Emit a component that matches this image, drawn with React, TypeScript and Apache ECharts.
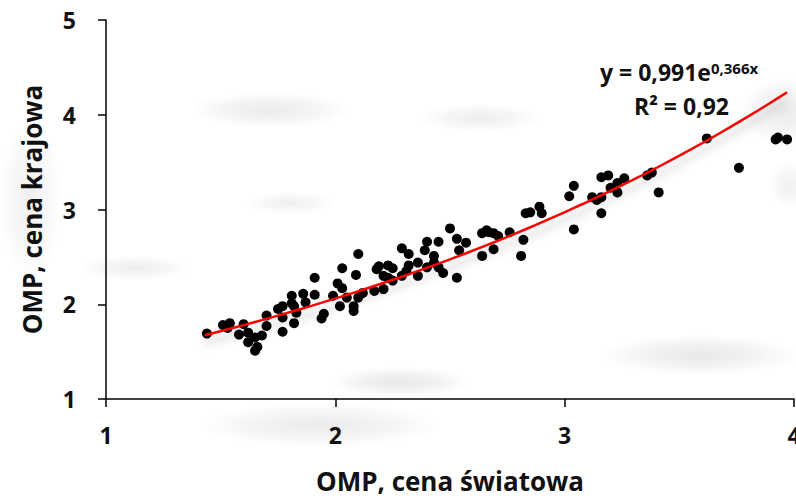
import React, { useEffect, useRef } from "react";
import * as echarts from "echarts";

// Scatter data: OMP world price (x) vs domestic price (y)
const worldPrice = [
  1.44, 1.51, 1.54, 1.53, 1.58, 1.6, 1.62, 1.62, 1.65, 1.66, 1.65, 1.7, 1.7, 1.68,
  1.75, 1.77, 1.77, 1.77, 1.81, 1.81, 1.82, 1.82, 1.86, 1.87, 1.91, 1.83, 1.91,
  1.95, 1.94, 1.99, 2.01, 2.03, 2.03, 2.02, 2.05, 2.08, 2.08, 2.1, 2.09, 2.1, 2.12,
  2.17, 2.18, 2.19, 2.21, 2.21, 2.23, 2.25, 2.23, 2.25, 2.29, 2.32, 2.31, 2.32,
  2.29, 2.36, 2.36, 2.39, 2.4, 2.43, 2.43, 2.4, 2.45, 2.45, 2.47, 2.5, 2.53, 2.53,
  2.57, 2.54, 2.64, 2.64, 2.66, 2.67, 2.69, 2.71, 2.69, 2.76, 2.82, 2.81, 2.83,
  2.85, 2.89, 2.9, 3.02, 3.04, 3.04, 3.12, 3.14, 3.16, 3.16, 3.19, 3.2, 3.23, 3.23,
  3.26, 3.16, 3.36, 3.38, 3.41, 3.62, 3.76, 3.92, 3.93, 3.97,
];
const domesticPrice = [
  1.69, 1.78, 1.8, 1.75, 1.68, 1.79, 1.7, 1.6, 1.65, 1.55, 1.51, 1.88, 1.77, 1.67,
  1.95, 1.98, 1.86, 1.71, 2.01, 2.09, 1.8, 1.98, 2.11, 2.02, 2.1, 1.91, 2.28,
  1.9, 1.85, 2.09, 2.22, 2.38, 2.17, 1.98, 2.07, 1.98, 1.93, 2.53, 2.31, 2.07, 2.12,
  2.14, 2.37, 2.4, 2.3, 2.16, 2.41, 2.38, 2.28, 2.25, 2.59, 2.53, 2.35, 2.41,
  2.3, 2.44, 2.3, 2.57, 2.66, 2.51, 2.44, 2.39, 2.66, 2.39, 2.33, 2.8, 2.28, 2.69,
  2.65, 2.57, 2.75, 2.51, 2.78, 2.76, 2.75, 2.72, 2.58, 2.76, 2.68, 2.51, 2.96,
  2.97, 3.03, 2.96, 3.14, 2.79, 3.25, 3.13, 3.1, 3.13, 3.34, 3.36, 3.23, 3.28, 3.18,
  3.33, 2.96, 3.36, 3.39, 3.18, 3.75, 3.44, 3.74, 3.76, 3.74,
];

// Exponential trend line shown on the chart: y = 0,991 e^(0,366x), R² = 0,92
const trendA = 0.991;
const trendB = 0.366;
const trendXRange = [1.43, 3.97];
const equationMain = "y = 0,991e";
const equationExp = "0,366x";
const rSquaredLabel = "R² = 0,92";

const xTicks = [1, 2, 3, 4];
const yTicks = [1, 2, 3, 4, 5];
const xTitle = "OMP, cena światowa";
const yTitle = "OMP, cena krajowa";

const FONT = "'Open Sans', Lato, sans-serif";

// soft grey background smudges seen in the picture: [cx, cy, rx, ry, alpha]
const smudges: number[][] = [
  [270, 110, 80, 18, 0.08],
  [480, 118, 60, 14, 0.07],
  [290, 203, 45, 11, 0.06],
  [135, 268, 55, 12, 0.07],
  [30, 200, 32, 80, 0.06],
  [400, 382, 70, 15, 0.09],
  [320, 425, 120, 22, 0.08],
  [700, 355, 100, 20, 0.09],
  [785, 112, 45, 34, 0.08],
  [790, 185, 22, 24, 0.06],
];

export default function App() {
  const ref = useRef<HTMLDivElement>(null);

  useEffect(() => {
    if (!ref.current) return;
    const chart = echarts.init(ref.current, null, { renderer: "svg" });

    const points = worldPrice.map((x, i) => [x, domesticPrice[i]]);
    const trend: number[][] = [];
    const steps = 60;
    for (let i = 0; i <= steps; i++) {
      const x = trendXRange[0] + ((trendXRange[1] - trendXRange[0]) * i) / steps;
      trend.push([x, trendA * Math.exp(trendB * x)]);
    }

    const labelStyle = {
      color: "#111",
      fontFamily: FONT,
      fontWeight: "bold" as const,
      fontSize: 23,
    };

    const smudgeGraphics = smudges.map(([cx, cy, rx, ry, a]) => ({
      type: "ellipse",
      shape: { cx, cy, rx, ry },
      silent: true,
      z: 0,
      style: {
        fill: new echarts.graphic.RadialGradient(0.5, 0.5, 0.5, [
          { offset: 0, color: `rgba(0,0,0,${a})` },
          { offset: 0.6, color: `rgba(0,0,0,${a * 0.5})` },
          { offset: 1, color: "rgba(0,0,0,0)" },
        ]),
      },
    }));

    chart.setOption({
      animation: false,
      backgroundColor: "#fff",
      grid: {
        left: 106,
        right: 2,
        top: 20,
        bottom: 101,
        containLabel: false,
        outerBoundsMode: "none",
      },
      xAxis: {
        type: "value",
        min: xTicks[0],
        max: xTicks[xTicks.length - 1],
        interval: 1,
        name: xTitle,
        nameLocation: "middle",
        nameGap: 69,
        nameTextStyle: { ...labelStyle, fontSize: 26, lineHeight: 26 },
        axisLine: { show: true, onZero: false, lineStyle: { color: "#000", width: 1.5 } },
        axisTick: { show: true, inside: false, length: 8, lineStyle: { color: "#000", width: 1.5 } },
        splitLine: { show: false },
        axisLabel: { ...labelStyle, margin: 24, hideOverlap: false },
      },
      yAxis: {
        type: "value",
        min: yTicks[0],
        max: yTicks[yTicks.length - 1],
        interval: 1,
        name: yTitle,
        nameLocation: "middle",
        nameGap: 61,
        nameRotate: 90,
        nameTextStyle: { ...labelStyle, fontSize: 26 },
        axisLine: { show: true, onZero: false, lineStyle: { color: "#000", width: 1.5 } },
        axisTick: { show: true, inside: false, length: 8, lineStyle: { color: "#000", width: 1.5 } },
        splitLine: { show: false },
        axisLabel: { ...labelStyle, margin: 30 },
      },
      series: [
        {
          type: "scatter",
          data: points,
          symbol: "circle",
          symbolSize: 10,
          itemStyle: { color: "#000", opacity: 1 },
          z: 3,
        },
        {
          type: "line",
          data: trend,
          showSymbol: false,
          symbol: "none",
          smooth: false,
          lineStyle: {
            color: "#ff0000",
            width: 2.5,
            shadowColor: "rgba(0,0,0,0.25)",
            shadowBlur: 8,
            shadowOffsetY: 8,
          },
          z: 4,
        },
      ],
      graphic: [
        ...smudgeGraphics,
        {
          type: "text",
          left: 600,
          top: 60,
          z: 10,
          style: {
            text: `{m|${equationMain}}{e|${equationExp}}`,
            rich: {
              m: { fontFamily: FONT, fontWeight: "bold", fontSize: 23, fill: "#111", verticalAlign: "bottom" },
              e: { fontFamily: FONT, fontWeight: "bold", fontSize: 15, fill: "#111", verticalAlign: "top" },
            },
          },
        },
        {
          type: "text",
          left: 634,
          top: 94,
          z: 10,
          style: {
            text: rSquaredLabel,
            fontFamily: FONT,
            fontWeight: "bold",
            fontSize: 23,
            fill: "#111",
          },
        },
      ],
    });

    return () => chart.dispose();
  }, []);

  return (
    <div
      ref={ref}
      style={{ position: "fixed", left: 0, top: 0, width: 796, height: 500 }}
    />
  );
}
